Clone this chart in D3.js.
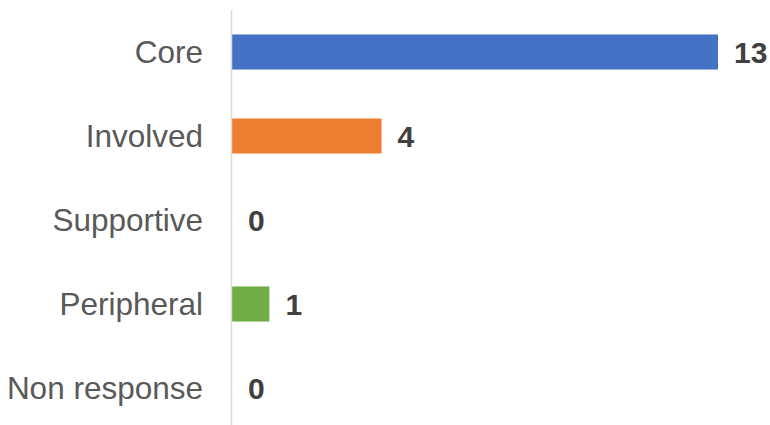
<!DOCTYPE html>
<html>
<head>
<meta charset="utf-8">
<script src="https://cdn.jsdelivr.net/npm/d3@7"></script>
<style>
  html, body { margin: 0; padding: 0; background: #ffffff; }
  svg { display: block; }
</style>
</head>
<body>
<svg id="chart" width="770" height="425"></svg>
<script>
// Response categories and counts
const categories = ["Core", "Involved", "Supportive", "Peripheral", "Non response"];
const counts = [13, 4, 0, 1, 0];
const barColors = ["#4472C4", "#ED7D31", "#A5A5A5", "#70AD47", "#5B9BD5"];

const width = 770, height = 425;
const svg = d3.select("#chart");
const fontFamily = "'Liberation Sans', Arial, Helvetica, sans-serif";

const x = d3.scaleLinear().domain([0, 13]).range([232, 718]);
const y = d3.scaleBand()
  .domain(categories)
  .range([10, 430])
  .paddingInner(0.583)
  .paddingOuter(0.2915);

const rows = categories.map((c, i) => ({ cat: c, value: counts[i], color: barColors[i] }));

// Bars
svg.append("g")
  .selectAll("rect")
  .data(rows)
  .join("rect")
  .attr("x", x(0))
  .attr("y", d => y(d.cat))
  .attr("width", d => x(d.value) - x(0))
  .attr("height", y.bandwidth())
  .attr("fill", d => d.color);

// Category axis
const axis = svg.append("g")
  .attr("transform", `translate(${x(0)},0)`)
  .call(d3.axisLeft(y).tickSize(0).tickPadding(29));
axis.select(".domain").remove();
axis.append("line")
  .attr("x1", -0.5).attr("x2", -0.5)
  .attr("y1", 10).attr("y2", height)
  .attr("stroke", "#D9D9D9")
  .attr("stroke-width", 1.5);
axis.selectAll(".tick text")
  .attr("fill", "#595959")
  .style("font-family", fontFamily)
  .style("font-size", "31.5px")
  .attr("dy", "0.35em");

// Value labels
svg.append("g")
  .selectAll("text")
  .data(rows)
  .join("text")
  .attr("x", d => x(d.value) + 16)
  .attr("y", d => y(d.cat) + y.bandwidth() / 2)
  .attr("dy", "0.35em")
  .attr("fill", "#404040")
  .style("font-family", fontFamily)
  .style("font-size", "30px")
  .style("font-weight", "bold")
  .text(d => d.value);
</script>
</body>
</html>
